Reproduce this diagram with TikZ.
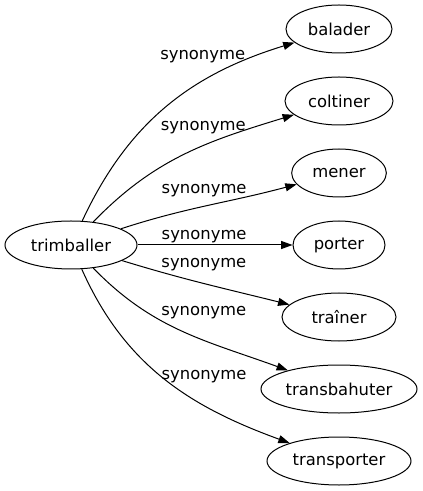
\documentclass[tikz,border=0pt]{standalone}
\usepackage{fontspec}
\setmainfont{DejaVu Sans}
\usetikzlibrary{arrows.meta,positioning,shapes.geometric}

\begin{document}
\begin{tikzpicture}[node distance=54pt,on grid,
    >={Triangle[length=8.5pt,width=6pt]},
    line width=0.75pt,
    mot/.style={ellipse,draw,inner sep=0pt,minimum height=36pt,
      font=\fontsize{12.3}{15}\selectfont},
    lbl/.style={inner sep=0pt,font=\fontsize{12.3}{15}\selectfont}]
    \useasboundingbox (-53.25pt,-184.5pt) rectangle (264pt,183.75pt);

    \node[mot,minimum width=99pt] (trimballer) {trimballer};
    \node[mot,minimum width=69pt] (porter) [right=201pt of trimballer] {porter};
    \node[mot,minimum width=71pt] (mener) [above=of porter] {mener};
    \node[mot,minimum width=81pt] (coltiner) [above=of mener] {coltiner};
    \node[mot,minimum width=79.5pt] (balader) [above=of coltiner] {balader};
    \node[mot,minimum width=85.5pt] (trainer) [below=of porter] {traîner};
    \node[mot,minimum width=117pt] (transbahuter) [below=of trainer] {transbahuter};
    \node[mot,minimum width=108pt] (transporter) [below=of transbahuter] {transporter};

    \path[->] (trimballer) edge [out=65,in=197] node[lbl,pos=0.68,xshift=-3pt,yshift=16.9pt] {synonyme} (balader);
    \path[->] (trimballer) edge [out=46,in=197] node[lbl,pos=0.595,yshift=13.5pt] {synonyme} (coltiner);
    \path[->] (trimballer) edge [out=18,in=195] node[lbl,pos=0.474,yshift=11.8pt] {synonyme} (mener);
    \path[->] (trimballer) edge node[lbl,pos=0.43,yshift=6pt] {synonyme} (porter);
    \path[->] (trimballer) edge [out=-17,in=166] node[lbl,pos=0.49,yshift=14.4pt] {synonyme} (trainer);
    \path[->] (trimballer) edge [out=-46,in=160] node[lbl,pos=0.626,xshift=-2.25pt,yshift=21.8pt] {synonyme} (transbahuter);
    \path[->] (trimballer) edge [out=-66,in=160] node[lbl,pos=0.7,xshift=-3.75pt,yshift=23.7pt] {synonyme} (transporter);
\end{tikzpicture}
\end{document}
